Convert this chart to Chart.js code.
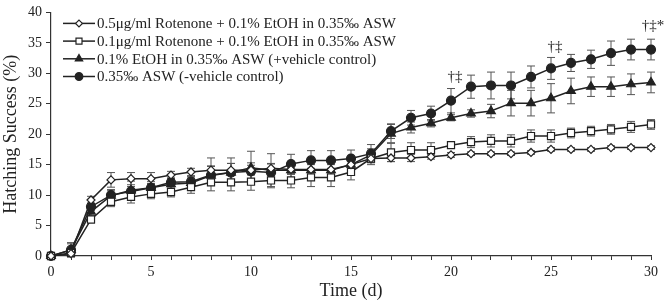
<!DOCTYPE html>
<html>
<head>
<meta charset="utf-8">
<script src="https://cdn.jsdelivr.net/npm/chart.js@4/dist/chart.umd.min.js"></script>
<style>
  body { margin: 0; background: #fff; }
  #wrap { width: 666px; height: 302px; }
</style>
</head>
<body>
<div id="wrap"><canvas id="hatching_chart"></canvas></div>
<script>
const days = [0, 1, 2, 3, 4, 5, 6, 7, 8, 9, 10, 11, 12, 13, 14, 15, 16, 17, 18, 19, 20, 21, 22, 23, 24, 25, 26, 27, 28, 29, 30];

const series_labels = [
    "0.5\u03bcg/ml Rotenone + 0.1% EtOH in 0.35\u2030 ASW",
    "0.1\u03bcg/ml Rotenone + 0.1% EtOH in 0.35\u2030 ASW",
    "0.1% EtOH in 0.35\u2030 ASW (+vehicle control)",
    "0.35\u2030 ASW (-vehicle control)"
];

const rotenone_05 = [0, 0.4, 9.2, 12.5, 12.7, 12.7, 13.3, 13.8, 14.1, 14.1, 14.1, 14.4, 14.2, 14.2, 14.2, 15.0, 16.0, 16.1, 16.1, 16.3, 16.6, 16.8, 16.8, 16.8, 17.0, 17.5, 17.5, 17.5, 17.8, 17.8, 17.8];
const rotenone_05_err = [0, 0.3, 0.6, 1.2, 1.0, 1.0, 0.6, 0.6, 2.0, 2.0, 0.8, 0.8, 0.8, 0.8, 0.8, 0.8, 0.6, 0.6, 0.6, 0.4, 0.4, 0.3, 0.3, 0.3, 0.3, 0.3, 0.3, 0.3, 0.3, 0.3, 0.3];

const rotenone_01 = [0, 0.5, 6.0, 8.9, 9.7, 10.2, 10.5, 11.3, 12.1, 12.1, 12.2, 12.4, 12.4, 12.9, 12.9, 13.8, 16.0, 17.0, 17.4, 17.4, 18.2, 18.7, 18.9, 18.9, 19.7, 19.7, 20.2, 20.5, 20.8, 21.2, 21.6];
const rotenone_01_err = [0, 0.5, 0.6, 0.8, 1.0, 0.8, 0.8, 1.0, 1.4, 1.4, 1.4, 1.2, 1.2, 1.5, 1.5, 1.3, 1.0, 1.5, 1.2, 1.2, 0.5, 0.9, 1.0, 1.0, 1.0, 1.0, 0.8, 0.8, 0.8, 0.9, 0.8];

const etoh_control = [0, 1.0, 7.3, 9.9, 10.8, 11.2, 11.8, 12.0, 13.2, 13.7, 14.5, 14.1, 14.1, 14.1, 14.1, 15.0, 16.6, 20.1, 21.1, 21.8, 22.7, 23.4, 23.8, 25.1, 25.1, 25.9, 27.1, 27.8, 27.8, 28.2, 28.5];
const etoh_control_err = [0, 1.0, 0.8, 1.0, 1.5, 1.0, 1.0, 1.0, 1.5, 1.5, 2.7, 2.7, 1.3, 1.3, 1.3, 1.3, 1.0, 1.5, 0.9, 0.6, 0.5, 0.6, 1.1, 2.1, 2.1, 2.4, 2.1, 1.6, 1.6, 1.7, 1.7];

const asw_control = [0, 1.0, 8.1, 10.0, 10.6, 11.2, 12.1, 12.2, 13.3, 13.7, 13.9, 13.7, 15.1, 15.7, 15.7, 16.0, 16.8, 20.5, 22.7, 23.4, 25.5, 27.8, 28.0, 28.0, 29.4, 30.8, 31.7, 32.3, 33.3, 33.9, 33.9];
const asw_control_err = [0, 1.2, 0.6, 0.8, 0.8, 0.7, 0.7, 0.8, 1.5, 1.5, 1.4, 1.4, 1.6, 1.6, 1.6, 1.4, 1.5, 1.2, 1.2, 1.2, 2.0, 1.9, 2.2, 2.2, 1.8, 1.8, 1.4, 1.5, 2.0, 1.7, 1.7];

const y_ticks = [0, 5, 10, 15, 20, 25, 30, 35, 40];

// significance marks above the -vehicle control line
const sig_days = [20.2, 25.2, 30.1];
const sig_values = [29.4, 34.3, 37.8];
const sig_texts = ["\u2020\u2021", "\u2020\u2021", "\u2020\u2021*"];

const serif = "'Liberation Serif', 'Times New Roman', serif";
const line_color = "#222";

function make_dataset(label, values, errors, style, filled, radius)
{
    return {
        label: label,
        data: values.map((v, i) => ({ x: days[i], y: v })),
        values: values,
        errors: errors,
        borderColor: line_color,
        borderWidth: 1.5,
        pointStyle: style,
        pointRadius: radius,
        pointBorderWidth: 1.2,
        pointBorderColor: line_color,
        pointBackgroundColor: filled ? line_color : "#fff",
        tension: 0,
        clip: false
    };
}

const datasets =
[
    make_dataset(series_labels[0], rotenone_05, rotenone_05_err, "rectRot", false, 4),
    make_dataset(series_labels[1], rotenone_01, rotenone_01_err, "rect", false, 5),
    make_dataset(series_labels[2], etoh_control, etoh_control_err, "triangle", true, 5),
    make_dataset(series_labels[3], asw_control, asw_control_err, "circle", true, 4.5)
];

const error_bars =
{
    id: "error_bars",
    beforeDatasetsDraw(chart)
    {
        const ctx = chart.ctx;
        const x_scale = chart.scales.x;
        const y_scale = chart.scales.y;
        ctx.save();
        ctx.strokeStyle = "#555";
        ctx.lineWidth = 1;
        chart.data.datasets.forEach((ds) =>
        {
            ds.values.forEach((v, i) =>
            {
                const e = ds.errors[i];
                if (!e) return;
                const x = x_scale.getPixelForValue(days[i]);
                const top = y_scale.getPixelForValue(v + e);
                const bottom = y_scale.getPixelForValue(v - e);
                ctx.beginPath();
                ctx.moveTo(x, top);
                ctx.lineTo(x, bottom);
                ctx.moveTo(x - 4, top);
                ctx.lineTo(x + 4, top);
                ctx.moveTo(x - 4, bottom);
                ctx.lineTo(x + 4, bottom);
                ctx.stroke();
            });
        });
        ctx.restore();
    }
};

const marks_and_legend =
{
    id: "marks_and_legend",
    afterDraw(chart)
    {
        const ctx = chart.ctx;
        const x_scale = chart.scales.x;
        const y_scale = chart.scales.y;
        ctx.save();

        // significance symbols
        ctx.fillStyle = "#222";
        ctx.font = "15px " + serif;
        ctx.textAlign = "center";
        ctx.textBaseline = "middle";
        sig_texts.forEach((t, i) =>
        {
            ctx.fillText(t, x_scale.getPixelForValue(sig_days[i]), y_scale.getPixelForValue(sig_values[i]));
        });

        // legend inside the plot, line + marker samples
        const area = chart.chartArea;
        ctx.textAlign = "left";
        chart.data.datasets.forEach((ds, i) =>
        {
            const y = area.top + 11 + i * 17.7;
            const x0 = area.left + 12;
            ctx.strokeStyle = line_color;
            ctx.lineWidth = 1.5;
            ctx.beginPath();
            ctx.moveTo(x0, y);
            ctx.lineTo(x0 + 32, y);
            ctx.stroke();
            ctx.fillStyle = ds.pointBackgroundColor;
            ctx.strokeStyle = ds.pointBorderColor;
            ctx.lineWidth = ds.pointBorderWidth;
            Chart.helpers.drawPoint(ctx, { pointStyle: ds.pointStyle, radius: ds.pointRadius * 0.85, rotation: 0, borderWidth: ds.pointBorderWidth }, x0 + 16, y);
            ctx.fillStyle = "#222";
            ctx.fillText(ds.label, x0 + 34, y + 1);
        });
        ctx.restore();
    }
};

const hatching_chart = new Chart("hatching_chart",
{
    type: "line",
    data:
    {
        datasets: datasets
    },
    options:
    {
        animation: false,
        responsive: true,
        maintainAspectRatio: false,
        layout:
        {
            padding: { top: 5, right: 15, left: 0, bottom: 0 }
        },
        plugins:
        {
            legend: { display: false },
            tooltip: { enabled: false }
        },
        scales:
        {
            x:
            {
                type: "linear",
                min: 0,
                max: 30,
                afterFit: (scale) => { scale.height = 46; },
                border: { display: true, color: "#333", width: 1.2 },
                grid: { drawOnChartArea: false, drawTicks: true, tickLength: 4, color: "#333" },
                ticks:
                {
                    stepSize: 1,
                    autoSkip: false,
                    maxRotation: 0,
                    padding: 4,
                    color: "#222",
                    font: { family: serif, size: 14 },
                    callback: (v) => (v % 5 === 0 ? String(v) : "")
                },
                title:
                {
                    display: true,
                    text: "Time (d)",
                    color: "#222",
                    font: { family: serif, size: 18 },
                    padding: { top: 0, bottom: 0 }
                }
            },
            y:
            {
                min: 0,
                max: 40,
                afterFit: (scale) => { scale.width = 51; },
                afterBuildTicks: (scale) => { scale.ticks = y_ticks.map((v) => ({ value: v })); },
                border: { display: true, color: "#333", width: 1.2 },
                grid: { drawOnChartArea: false, drawTicks: true, tickLength: 5, color: "#333" },
                ticks:
                {
                    padding: 4,
                    color: "#222",
                    font: { family: serif, size: 14 }
                },
                title:
                {
                    display: true,
                    text: "Hatching Success (%)",
                    color: "#222",
                    font: { family: serif, size: 18 },
                    padding: { top: 0, bottom: 0 }
                }
            }
        }
    },
    plugins: [error_bars, marks_and_legend]
});
</script>
</body>
</html>
